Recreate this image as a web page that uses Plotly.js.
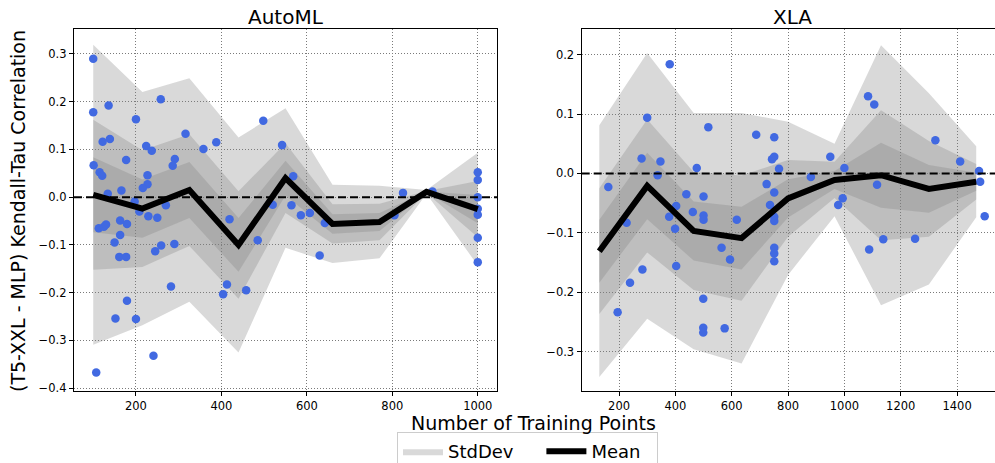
<!DOCTYPE html>
<html>
<head>
<meta charset="utf-8">
<script src="https://cdn.plot.ly/plotly-3.0.1.min.js"></script>
<style>html,body{margin:0;padding:0;overflow:hidden;background:#fff}#chart{width:1010px;height:490px}</style>
</head>
<body>
<div id="chart"></div>
<script>
// ---- AutoML panel ----
const automlPtsX = [100,100,136,200,258,122,139,316,358,388,498,542,224,237,177,291,286,101,115,121,227,227,216,166,134,568,520,564,270,197,208,229,250,163,419,113,125,130,179,163,150,161,177,245,259,290,282,179,152,200,241,107,485,404,413,458,586,607,825,894,1000,1000,1000,1000,1000,1000,1000,805,642,630];
const automlPtsY = [0.290,0.178,0.192,0.163,0.205,0.116,0.122,0.133,0.101,0.115,0.160,0.109,0.107,0.097,0.078,0.080,0.066,0.067,0.052,0.045,0.046,0.027,0.019,0.014,0.007,0.044,-0.016,-0.017,-0.017,-0.009,-0.030,-0.040,-0.043,-0.049,-0.046,-0.065,-0.062,-0.057,-0.056,-0.079,-0.095,-0.125,-0.125,-0.113,-0.101,-0.098,-0.187,-0.217,-0.254,-0.255,-0.332,-0.367,-0.090,-0.203,-0.183,-0.195,-0.038,-0.033,0.009,0.012,0.052,0.036,0.000,-0.024,-0.037,-0.085,-0.136,-0.038,-0.054,-0.122];
const automlBinX = [100,215,325,440,550,660,770,880,1000];
const automlMean = [0.005,-0.024,0.015,-0.100,0.040,-0.056,-0.052,0.011,-0.025];
const automlStd  = [0.314,0.244,0.234,0.225,0.146,0.082,0.076,0.004,0.118];

// ---- XLA panel ----
const xlaPtsX = [162,300,380,280,347,337,476,517,439,500,403,378,462,500,500,618,687,751,743,751,768,724,751,736,751,751,227,399,564,594,403,283,239,195,499,499,499,575,751,751,751,881,950,1000,994,978,1084,1106,1116,1323,1411,1478,1482,1498,1088,1138,1251];
const xlaPtsY = [-0.023,0.094,0.184,0.025,0.020,-0.003,0.009,0.078,-0.035,-0.039,-0.055,-0.073,-0.065,-0.071,-0.078,-0.078,0.065,0.061,0.024,0.028,0.008,-0.018,-0.032,-0.053,-0.073,-0.080,-0.083,-0.093,-0.125,-0.145,-0.156,-0.162,-0.184,-0.234,-0.211,-0.260,-0.268,-0.261,-0.125,-0.135,-0.148,-0.006,0.028,0.009,-0.042,-0.053,0.130,0.116,-0.019,0.056,0.020,0.004,-0.014,-0.072,-0.128,-0.111,-0.110];
const xlaBinX = [130,300,465,635,800,965,1130,1300,1468];
const xlaMean = [-0.131,-0.021,-0.097,-0.109,-0.042,-0.011,-0.003,-0.026,-0.014];
const xlaStd  = [0.212,0.224,0.199,0.211,0.129,0.061,0.219,0.161,0.060];

const bandScales = [1, 0.5, 0.25];
const xTicksA = [200,400,600,800,1000];
const yTicksA = [-0.4,-0.3,-0.2,-0.1,0.0,0.1,0.2,0.3];
const xTicksB = [200,400,600,800,1000,1200,1400];
const yTicksB = [-0.3,-0.2,-0.1,0.0,0.1,0.2];

const BAND = 'rgba(128,128,128,0.3)';
const NB = '\u00a0';
const traces = [];
let legendBandShown = false, legendMeanShown = false;

function addPanel(bx, mean, std, px, py, xa, ya) {
  bandScales.forEach(k => {
    const up = mean.map((m,i) => m + k*std[i]);
    const lo = mean.map((m,i) => m - k*std[i]);
    traces.push({
      x: bx.concat(bx.slice().reverse()),
      y: up.concat(lo.slice().reverse()),
      type: 'scatter', mode: 'lines', fill: 'toself', fillcolor: BAND,
      line: {width: 0, color: BAND}, hoverinfo: 'skip',
      name: 'StdDev' + NB + NB + NB + NB, showlegend: !legendBandShown, legendrank: 1,
      xaxis: xa, yaxis: ya
    });
    legendBandShown = true;
  });
  traces.push({
    x: px, y: py, type: 'scatter', mode: 'markers',
    marker: {color: '#4169e1', size: 8.5, line: {width: 0}},
    showlegend: false, xaxis: xa, yaxis: ya
  });
  traces.push({
    x: bx, y: mean, type: 'scatter', mode: 'lines',
    line: {color: '#000', width: 6}, name: 'Mean' + NB + NB,
    showlegend: !legendMeanShown, legendrank: 2, xaxis: xa, yaxis: ya
  });
  legendMeanShown = true;
}
addPanel(automlBinX, automlMean, automlStd, automlPtsX, automlPtsY, 'x', 'y');
addPanel(xlaBinX, xlaMean, xlaStd, xlaPtsX, xlaPtsY, 'x2', 'y2');

const W = 1010, H = 490;
const FONT = 'DejaVu Sans, sans-serif';
function ax(domain, range, ticks, fmt, anchor) {
  return {
    domain: domain, range: range, tickvals: ticks, tickformat: fmt,
    showline: true, linecolor: '#000', linewidth: 1.2, mirror: true,
    ticks: 'outside', ticklen: 4, tickwidth: 1, tickcolor: '#000',
    showgrid: true, gridcolor: '#7a7a7a', griddash: '1px,2px', gridwidth: 1,
    zeroline: false, tickfont: {family: FONT, size: 11.5, color: '#000'},
    anchor: anchor
  };
}
const yDom = [(H-390.7)/H, (H-29.3)/H];
const layout = {
  width: W, height: H,
  margin: {l: 0, r: 0, t: 0, b: 0},
  paper_bgcolor: '#fff', plot_bgcolor: '#fff',
  font: {family: FONT, color: '#000'},
  xaxis: ax([74/W, 497/W], [55, 1045], xTicksA, 'd', 'y'),
  yaxis: ax(yDom, [-0.4052, 0.3515], yTicksA, '.1f', 'x'),
  xaxis2: ax([581.7/W, 1004/W], [67.5, 1566.6], xTicksB, 'd', 'y2'),
  yaxis2: ax(yDom, [-0.366, 0.2428], yTicksB, '.1f', 'x2'),
  showlegend: true,
  legend: {
    orientation: 'h', x: 397/W, xanchor: 'left', y: 1 - 432/H, yanchor: 'top',
    font: {family: FONT, size: 18, color: '#000'},
    bordercolor: '#cccccc', borderwidth: 1, bgcolor: '#fff', traceorder: 'normal',
    itemwidth: 40
  },
  shapes: [
    {type: 'line', xref: 'x domain', yref: 'y', x0: 0, x1: 1, y0: 0, y1: 0,
     line: {color: '#000', width: 2, dash: '8px,4px'}, layer: 'above'},
    {type: 'line', xref: 'x2 domain', yref: 'y2', x0: 0, x1: 1, y0: 0, y1: 0,
     line: {color: '#000', width: 2, dash: '8px,4px'}, layer: 'above'}
  ],
  annotations: [
    {text: 'AutoML', xref: 'paper', yref: 'paper', x: 285.5/W, y: 1 - 17/H,
     xanchor: 'center', yanchor: 'middle', showarrow: false, font: {family: FONT, size: 20}},
    {text: 'XLA', xref: 'paper', yref: 'paper', x: 792.85/W, y: 1 - 17/H,
     xanchor: 'center', yanchor: 'middle', showarrow: false, font: {family: FONT, size: 20}},
    {text: 'Number of Training Points', xref: 'paper', yref: 'paper', x: 533/W, y: 1 - 423/H,
     xanchor: 'center', yanchor: 'middle', showarrow: false, font: {family: FONT, size: 19}},
    {text: '(T5-XXL - MLP) Kendall-Tau Correlation', xref: 'paper', yref: 'paper', x: 18/W, y: 1 - 211/H,
     xanchor: 'center', yanchor: 'middle', textangle: -90, showarrow: false, font: {family: FONT, size: 19}}
  ]
};
Plotly.newPlot('chart', traces, layout, {displayModeBar: false, staticPlot: true});
</script>
</body>
</html>
